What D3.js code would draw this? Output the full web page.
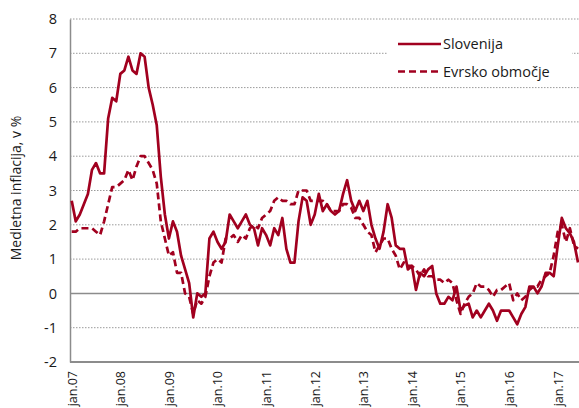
<!DOCTYPE html>
<html>
<head>
<meta charset="utf-8">
<script src="https://cdn.jsdelivr.net/npm/d3@7"></script>
<style>
  html, body { margin: 0; padding: 0; background: #fff; }
  svg { display: block; font-family: "Open Sans", "Noto Sans", sans-serif; }
</style>
</head>
<body>
<svg id="chart" width="579" height="408"></svg>
<script>
// ---- data ----
const yearLabels = ["jan.07","jan.08","jan.09","jan.10","jan.11","jan.12","jan.13","jan.14","jan.15","jan.16","jan.17"];
const seriesNames = ["Slovenija", "Evrsko območje"];
const slovenija = [
  2.7, 2.1, 2.3, 2.6, 2.9, 3.6, 3.8, 3.5, 3.5, 5.1, 5.7, 5.6,
  6.4, 6.5, 6.9, 6.5, 6.4, 7.0, 6.9, 6.0, 5.5, 4.9, 3.4, 2.3,
  1.6, 2.1, 1.8, 1.1, 0.7, 0.3, -0.7, 0.0, -0.1, 0.0, 1.6, 1.8,
  1.5, 1.3, 1.5, 2.3, 2.1, 1.9, 2.1, 2.3, 2.0, 1.9, 1.4, 1.9,
  1.7, 1.4, 1.9, 1.7, 2.2, 1.3, 0.9, 0.9, 2.1, 2.8, 2.7, 2.0,
  2.3, 2.9, 2.4, 2.6, 2.4, 2.3, 2.4, 2.9, 3.3, 2.7, 2.4, 2.7,
  2.4, 2.7, 2.0, 1.6, 1.3, 1.8, 2.6, 2.2, 1.4, 1.3, 1.3, 0.7,
  0.8, 0.1, 0.6, 0.5, 0.7, 0.8, 0.0, -0.3, -0.3, -0.1, -0.2, 0.2,
  -0.5, -0.35, -0.3, -0.7, -0.5, -0.7, -0.5, -0.3, -0.5, -0.8, -0.5, -0.5,
  -0.5, -0.7, -0.9, -0.6, -0.4, 0.2, 0.2, 0.0, 0.2, 0.6, 0.6, 0.5,
  1.4, 2.2, 1.9, 1.75, 1.5, 0.9
];
const evrskoObmocje = [
  1.8, 1.8, 1.9, 1.9, 1.9, 1.9, 1.8, 1.7, 2.1, 2.6, 3.1, 3.1,
  3.2, 3.3, 3.6, 3.3, 3.7, 4.0, 4.0, 3.8, 3.6, 3.2, 2.1, 1.6,
  1.1, 1.2, 0.6, 0.6, 0.0, -0.1, -0.6, -0.2, -0.3, -0.1, 0.5, 0.9,
  1.0, 0.9, 1.6, 1.6, 1.7, 1.5, 1.7, 1.6, 1.9, 2.0, 1.9, 2.2,
  2.3, 2.4, 2.7, 2.8, 2.7, 2.7, 2.6, 2.6, 3.0, 3.0, 3.0, 2.7,
  2.7, 2.7, 2.7, 2.6, 2.4, 2.4, 2.4, 2.6, 2.6, 2.5, 2.2, 2.2,
  2.0, 1.8, 1.7, 1.2, 1.4, 1.6, 1.6, 1.3, 1.1, 0.7, 0.9, 0.8,
  0.8, 0.7, 0.5, 0.7, 0.5, 0.5, 0.4, 0.4, 0.3, 0.4, 0.3, -0.2,
  -0.6, -0.3, -0.1, 0.0, 0.3, 0.2, 0.2, 0.1, -0.1, 0.1, 0.1, 0.2,
  0.3, -0.2, 0.0, -0.2, -0.1, 0.1, 0.2, 0.2, 0.4, 0.5, 0.6, 1.1,
  1.8, 2.0, 1.5, 1.9, 1.4, 1.3
];
const yTicks = [-2, -1, 0, 1, 2, 3, 4, 5, 6, 7, 8];
const yTitle = "Medletna inflacija, v %";

// ---- layout ----
const svg = d3.select("#chart");
const plotLeft = 70, plotTop = 19, plotBottom = 362, plotRight = 579;
const color = "#a1001f";

const x = d3.scaleLinear().domain([0, slovenija.length - 1]).range([71.7, 578]);
const y = d3.scaleLinear().domain([-2, 8]).range([plotBottom, plotTop]);

const defs = svg.append("defs");
defs.append("clipPath").attr("id", "clip")
  .append("rect").attr("x", plotLeft).attr("y", 0).attr("width", plotRight - plotLeft).attr("height", 408);

// gridlines
const grid = svg.append("g");
grid.selectAll("line").data(yTicks.filter(v => v !== 0 && v !== -2)).enter().append("line")
  .attr("x1", plotLeft).attr("x2", plotRight)
  .attr("y1", d => y(d)).attr("y2", d => y(d))
  .attr("stroke", "#9a9a9a").attr("stroke-width", 1).attr("stroke-dasharray", "1.5,1.5");

// zero line
svg.append("line").attr("x1", plotLeft).attr("x2", plotRight).attr("y1", y(0)).attr("y2", y(0))
  .attr("stroke", "#8c8c8c").attr("stroke-width", 1.5);

// y axis
const yAxis = d3.axisLeft(y).tickValues(yTicks).tickSize(0).tickPadding(13).tickFormat(d => String(d));
const gy = svg.append("g").attr("transform", `translate(${plotLeft},0)`).call(yAxis);
gy.select(".domain").attr("stroke", "#8c8c8c").attr("stroke-width", 1.5);
gy.selectAll("text").attr("font-size", 14.5).attr("fill", "#1a1a1a").attr("font-family", "Open Sans, sans-serif");

// x axis
const xAxis = d3.axisBottom(x).tickValues(d3.range(0, slovenija.length, 12)).tickSize(0)
  .tickFormat((d, i) => yearLabels[i]);
const gx = svg.append("g").attr("transform", `translate(0,${plotBottom})`).call(xAxis);
gx.select(".domain").remove();
gx.selectAll("text")
  .attr("font-size", 12.5).attr("fill", "#1a1a1a").attr("font-family", "Open Sans, sans-serif")
  .attr("text-anchor", "end").attr("transform", "rotate(-90)")
  .attr("x", -9).attr("y", 0).attr("dy", "0.35em");
svg.append("line").attr("x1", plotLeft).attr("x2", plotRight).attr("y1", plotBottom).attr("y2", plotBottom)
  .attr("stroke", "#8c8c8c").attr("stroke-width", 2);

// y title
svg.append("text").attr("transform", `translate(21,188) rotate(-90)`)
  .attr("text-anchor", "middle").attr("font-size", 14).attr("fill", "#1a1a1a")
  .text(yTitle);

// lines
const line = d3.line().x((d, i) => x(i)).y(d => y(d));
const plot = svg.append("g").attr("clip-path", "url(#clip)");
plot.append("path").datum(evrskoObmocje).attr("d", line)
  .attr("fill", "none").attr("stroke", color).attr("stroke-width", 2.7)
  .attr("stroke-dasharray", "7,4").attr("stroke-linejoin", "round");
plot.append("path").datum(slovenija).attr("d", line)
  .attr("fill", "none").attr("stroke", color).attr("stroke-width", 2.7)
  .attr("stroke-linejoin", "round");

// legend
const lg = svg.append("g");
lg.append("rect").attr("x", 388).attr("y", 26).attr("width", 184).attr("height", 58).attr("fill", "#fff");
const items = [{name: seriesNames[0], dash: null, yy: 44}, {name: seriesNames[1], dash: "7,4", yy: 71.5}];
items.forEach(it => {
  lg.append("line").attr("x1", 398).attr("x2", 441).attr("y1", it.yy).attr("y2", it.yy)
    .attr("stroke", color).attr("stroke-width", 2.7).attr("stroke-dasharray", it.dash);
  lg.append("text").attr("x", 443).attr("y", it.yy).attr("dy", "0.35em")
    .attr("font-size", 14.5).attr("fill", "#1a1a1a").text(it.name);
});
</script>
</body>
</html>
